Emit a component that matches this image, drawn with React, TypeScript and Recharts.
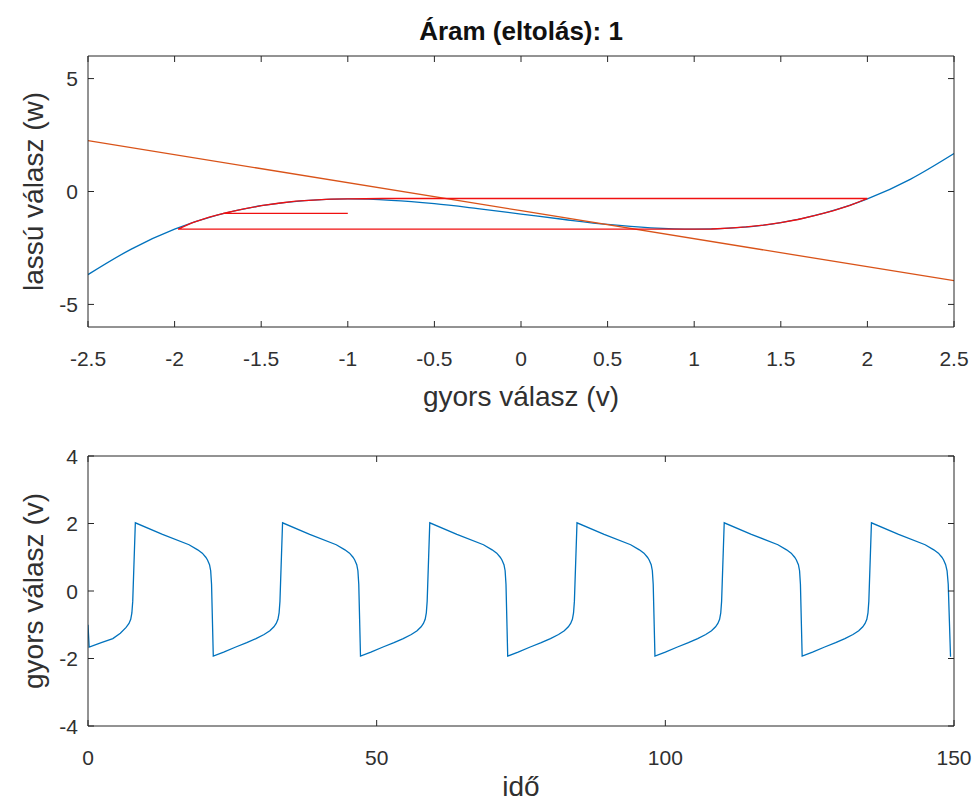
import React from 'react';
import { LineChart, Line, XAxis, YAxis } from 'recharts';

// phase plane: cubic nullcline (blue), linear nullcline (orange), trajectory (red)
const cubicV = [-2.5, -2.25, -2, -1.75, -1.5, -1.25, -1, -0.75, -0.5, -0.25, 0, 0.25, 0.5, 0.75, 1, 1.25, 1.5, 1.75, 2, 2.25, 2.5];
const cubicW = [-3.68, -2.55, -1.67, -1.04, -0.63, -0.4, -0.33, -0.39, -0.54, -0.76, -1.0, -1.24, -1.46, -1.61, -1.67, -1.6, -1.38, -0.96, -0.33, 0.55, 1.68];

const linearV = [-2.5, 0, 2.5];
const linearW = [2.25, -0.85, -3.95];

const trajV = [-1.0, -1.72, -1.7, -1.6, -1.5, -1.4, -1.3, -1.2, -1.1, -1.0, -0.9, -0.8, 2.0, 1.9, 1.8, 1.7, 1.6, 1.5, 1.4, 1.3, 1.2, 1.1, 1.0, 0.9, -1.98, -1.9, -1.8, -1.7, -1.6, -1.5, -1.4, -1.3, -1.2, -1.1, -1.0, -0.9, -0.8, 2.0];
const trajW = [-0.97, -0.97, -0.94, -0.77, -0.63, -0.52, -0.43, -0.38, -0.34, -0.33, -0.32, -0.31, -0.31, -0.61, -0.86, -1.06, -1.24, -1.38, -1.49, -1.57, -1.62, -1.66, -1.67, -1.67, -1.67, -1.39, -1.14, -0.94, -0.77, -0.63, -0.52, -0.43, -0.38, -0.34, -0.33, -0.32, -0.31, -0.31];

// time series of the fast variable, one row per slow/fast phase
const timeT = [
  0, 0.2, 2.3, 4.3, 5.6, 6.6, 7.1, 7.4, 7.6, 7.75, 8.2,
  12.9, 17.5, 19.0, 19.8, 20.4, 20.7, 21.05, 21.25, 21.4, 21.7,
  23.5, 25.6, 27.5, 29.1, 30.5, 31.5, 32.2, 32.6, 32.9, 33.1, 33.25, 33.7,
  38.4, 43.0, 44.5, 45.3, 45.9, 46.2, 46.55, 46.75, 46.9, 47.2,
  49.0, 51.1, 53.0, 54.6, 56.0, 57.0, 57.7, 58.1, 58.4, 58.6, 58.75, 59.2,
  63.9, 68.5, 70.0, 70.8, 71.4, 71.7, 72.05, 72.25, 72.4, 72.7,
  74.5, 76.6, 78.5, 80.1, 81.5, 82.5, 83.2, 83.6, 83.9, 84.1, 84.25, 84.7,
  89.4, 94.0, 95.5, 96.3, 96.9, 97.2, 97.55, 97.75, 97.9, 98.2,
  100.0, 102.1, 104.0, 105.6, 107.0, 108.0, 108.7, 109.1, 109.4, 109.6, 109.75, 110.2,
  114.9, 119.5, 121.0, 121.8, 122.4, 122.7, 123.05, 123.25, 123.4, 123.7,
  125.5, 127.6, 129.5, 131.1, 132.5, 133.5, 134.2, 134.6, 134.9, 135.1, 135.25, 135.7,
  140.4, 145.0, 146.5, 147.3, 147.9, 148.2, 148.55, 148.8, 149.0, 149.4,
];
const timeV = [
  -1.0, -1.66, -1.53, -1.41, -1.25, -1.08, -0.96, -0.84, -0.65, -0.3, 2.02,
  1.68, 1.37, 1.22, 1.12, 1.0, 0.92, 0.78, 0.6, 0.2, -1.93,
  -1.81, -1.66, -1.53, -1.41, -1.29, -1.18, -1.06, -0.96, -0.84, -0.65, -0.3, 2.02,
  1.68, 1.37, 1.22, 1.12, 1.0, 0.92, 0.78, 0.6, 0.2, -1.93,
  -1.81, -1.66, -1.53, -1.41, -1.29, -1.18, -1.06, -0.96, -0.84, -0.65, -0.3, 2.02,
  1.68, 1.37, 1.22, 1.12, 1.0, 0.92, 0.78, 0.6, 0.2, -1.93,
  -1.81, -1.66, -1.53, -1.41, -1.29, -1.18, -1.06, -0.96, -0.84, -0.65, -0.3, 2.02,
  1.68, 1.37, 1.22, 1.12, 1.0, 0.92, 0.78, 0.6, 0.2, -1.93,
  -1.81, -1.66, -1.53, -1.41, -1.29, -1.18, -1.06, -0.96, -0.84, -0.65, -0.3, 2.02,
  1.68, 1.37, 1.22, 1.12, 1.0, 0.92, 0.78, 0.6, 0.2, -1.93,
  -1.81, -1.66, -1.53, -1.41, -1.29, -1.18, -1.06, -0.96, -0.84, -0.65, -0.3, 2.02,
  1.68, 1.37, 1.22, 1.12, 1.0, 0.92, 0.78, 0.6, 0.2, -1.95,
];

const phaseTicksX = [-2.5, -2, -1.5, -1, -0.5, 0, 0.5, 1, 1.5, 2, 2.5];
const phaseTicksY = [-5, 0, 5];
const timeTicksX = [0, 50, 100, 150];
const timeTicksY = [-4, -2, 0, 2, 4];

const toPoints = (xs: number[], ys: number[]) => xs.map((x, i) => ({ x, y: ys[i] }));

const AXIS = '#262626';
const TEXT = '#303030';
const FONT = '"Liberation Sans", Arial, Helvetica, sans-serif';
const TICK_LEN = 6;

const BottomTick = (props: any) => {
    const { x, y, payload } = props;
    return (
        <g>
            <line x1={x} x2={x} y1={y} y2={y - TICK_LEN} stroke={AXIS} />
            <text x={x} y={y + 39} textAnchor="middle" fontSize={21} fill={TEXT} fontFamily={FONT}>
                {String(payload.value)}
            </text>
        </g>
    );
};

const TopTick = (props: any) => {
    const { x, y } = props;
    return <line x1={x} x2={x} y1={y} y2={y + TICK_LEN} stroke={AXIS} />;
};

const LeftTick = (props: any) => {
    const { x, y, payload } = props;
    return (
        <g>
            <line x1={x} x2={x + TICK_LEN} y1={y} y2={y} stroke={AXIS} />
            <text x={x - 10} y={y} dy="0.36em" textAnchor="end" fontSize={21} fill={TEXT} fontFamily={FONT}>
                {String(payload.value)}
            </text>
        </g>
    );
};

const RightTick = (props: any) => {
    const { x, y } = props;
    return <line x1={x} x2={x - TICK_LEN} y1={y} y2={y} stroke={AXIS} />;
};

const labelStyle = { textAnchor: 'middle' as const, fontSize: 28, fontFamily: FONT, fill: TEXT };

const axisCommon = {
    type: 'number' as const,
    allowDataOverflow: true,
    tickLine: false,
    tickSize: 0,
    tickMargin: 0,
    interval: 0 as const,
    axisLine: { stroke: AXIS, strokeWidth: 1 },
};

const App: React.FC = () => {
    const cubicData = toPoints(cubicV, cubicW);
    const linearData = toPoints(linearV, linearW);
    const trajData = toPoints(trajV, trajW);
    const timeData = toPoints(timeT, timeV);

    return (
        <div style={{ position: 'absolute', left: 0, top: 0, width: 977, height: 807, background: '#fff' }}>
            <div style={{ position: 'absolute', left: 0, top: 0 }}>
                <LineChart width={977} height={420} margin={{ top: 55, right: 22, bottom: 0, left: 0 }}>
                    <XAxis
                        {...axisCommon}
                        dataKey="x"
                        domain={[-2.5, 2.5]}
                        ticks={phaseTicksX}
                        height={93}
                        tick={<BottomTick />}
                        label={{ value: 'gyors válasz (v)', position: 'insideBottom', offset: 14, style: labelStyle }}
                    />
                    <XAxis
                        {...axisCommon}
                        xAxisId="top"
                        orientation="top"
                        dataKey="x"
                        domain={[-2.5, 2.5]}
                        ticks={phaseTicksX}
                        height={1}
                        tick={<TopTick />}
                        label={{
                            value: 'Áram (eltolás): 1',
                            position: 'top',
                            offset: 15,
                            style: { ...labelStyle, fontSize: 26, fontWeight: 'bold', fill: '#111' },
                        }}
                    />
                    <YAxis
                        {...axisCommon}
                        domain={[-6, 6]}
                        ticks={phaseTicksY}
                        width={88}
                        tick={<LeftTick />}
                        label={{ value: 'lassú válasz (w)', angle: -90, position: 'insideLeft', offset: 33, style: labelStyle }}
                    />
                    <YAxis
                        {...axisCommon}
                        yAxisId="right"
                        orientation="right"
                        domain={[-6, 6]}
                        ticks={phaseTicksY}
                        width={1}
                        tick={<RightTick />}
                    />
                    <Line data={cubicData} dataKey="y" type="monotone" stroke="#0072BD" strokeWidth={1.3} dot={false} activeDot={false} isAnimationActive={false} />
                    <Line data={linearData} dataKey="y" type="linear" stroke="#D95319" strokeWidth={1.3} dot={false} activeDot={false} isAnimationActive={false} />
                    <Line data={trajData} dataKey="y" type="linear" stroke="#F01010" strokeWidth={1.3} dot={false} activeDot={false} isAnimationActive={false} />
                </LineChart>
            </div>
            <div style={{ position: 'absolute', left: 0, top: 420 }}>
                <LineChart width={977} height={387} margin={{ top: 35, right: 22, bottom: 0, left: 0 }}>
                    <XAxis
                        {...axisCommon}
                        dataKey="x"
                        domain={[0, 150]}
                        ticks={timeTicksX}
                        height={81}
                        tick={<BottomTick />}
                        label={{ value: 'idő', position: 'insideBottom', offset: 11, style: labelStyle }}
                    />
                    <XAxis
                        {...axisCommon}
                        xAxisId="top"
                        orientation="top"
                        dataKey="x"
                        domain={[0, 150]}
                        ticks={timeTicksX}
                        height={1}
                        tick={<TopTick />}
                    />
                    <YAxis
                        {...axisCommon}
                        domain={[-4, 4]}
                        ticks={timeTicksY}
                        width={88}
                        tick={<LeftTick />}
                        label={{ value: 'gyors válasz (v)', angle: -90, position: 'insideLeft', offset: 33, style: labelStyle }}
                    />
                    <YAxis
                        {...axisCommon}
                        yAxisId="right"
                        orientation="right"
                        domain={[-4, 4]}
                        ticks={timeTicksY}
                        width={1}
                        tick={<RightTick />}
                    />
                    <Line data={timeData} dataKey="y" type="linear" stroke="#0072BD" strokeWidth={1.3} dot={false} activeDot={false} isAnimationActive={false} />
                </LineChart>
            </div>
        </div>
    );
};

export default App;
